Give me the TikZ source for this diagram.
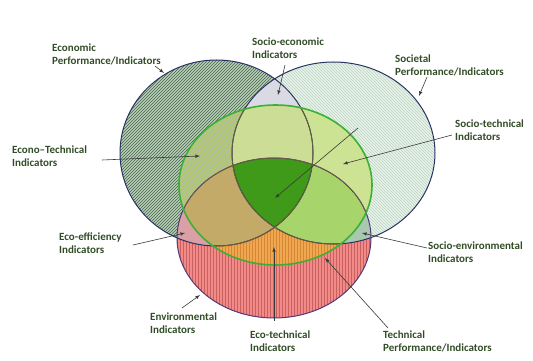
\documentclass[tikz,border=0pt]{standalone}
\usepackage{fontspec}
\setsansfont{Carlito}
\usetikzlibrary{patterns}
\definecolor{lblgreen}{RGB}{50,76,40}
\definecolor{arrowgray}{RGB}{58,58,58}
\definecolor{navyline}{RGB}{40,52,100}
\definecolor{envline}{RGB}{84,58,120}
\definecolor{innerline}{RGB}{110,100,50}
\definecolor{techline}{RGB}{60,176,52}
\definecolor{econbg}{RGB}{186,206,186}
\definecolor{econhatch}{RGB}{66,100,70}
\definecolor{socbg}{RGB}{232,243,234}
\definecolor{sochatch}{RGB}{186,212,196}
\definecolor{envbg}{RGB}{242,138,136}
\definecolor{envhatch}{RGB}{200,96,96}
\definecolor{econsoc}{RGB}{218,218,228}
\definecolor{econenv}{RGB}{218,160,166}
\definecolor{socenv}{RGB}{168,200,176}
\definecolor{techecon}{RGB}{182,202,112}
\definecolor{techsoc}{RGB}{205,227,148}
\definecolor{techenv}{RGB}{240,168,80}
\definecolor{techenvhatch}{RGB}{214,134,52}
\definecolor{techeconsoc}{RGB}{204,221,150}
\definecolor{techeconenv}{RGB}{196,170,104}
\definecolor{techsocenv}{RGB}{168,212,108}
\definecolor{coregreen}{RGB}{62,154,24}
\tikzset{every picture/.style={/utils/exec={\sffamily}}}
\tikzstyle{line}=[line width=0.6pt]
\tikzstyle{arrow}=[line,draw=arrowgray,->,>=latex]
\tikzstyle{lbl}=[anchor=north west,inner sep=0pt,align=left,text=lblgreen,
  font=\fontsize{11}{13}\selectfont\bfseries]
\newcommand{\EconShape}{(216.5,153) ellipse [x radius=96.5pt, y radius=93pt]}
\newcommand{\SocShape}{(333.5,153) ellipse [x radius=101.5pt, y radius=91pt]}
\newcommand{\EnvShape}{(274,238) ellipse [x radius=97pt, y radius=80pt]}
\newcommand{\TechShape}{(275.5,185) ellipse [x radius=96.5pt, y radius=80pt]}

\begin{document}
\begin{tikzpicture}[x=1pt,y=-1pt]
    \useasboundingbox (0,0) rectangle (533,361);
    % single sets
    \fill[econbg] \EconShape;
    \fill[pattern=north east lines, pattern color=econhatch] \EconShape;
    \fill[socbg] \SocShape;
    \fill[pattern=north west lines, pattern color=sochatch] \SocShape;
    \fill[envbg] \EnvShape;
    \fill[pattern=vertical lines, pattern color=envhatch] \EnvShape;
    % pairs outside the technical set
    \begin{scope}
      \clip \EconShape;
      \fill[econsoc] \SocShape;
      \fill[econenv] \EnvShape;
    \end{scope}
    \begin{scope}
      \clip \SocShape;
      \fill[socenv] \EnvShape;
    \end{scope}
    % technical set and its overlaps
    \begin{scope}
      \clip \TechShape;
      \fill[techecon] \EconShape;
      \fill[pattern=north east lines, pattern color=econhatch!45] \EconShape;
      \fill[techsoc] \SocShape;
      \fill[techenv] \EnvShape;
      \fill[pattern=vertical lines, pattern color=techenvhatch] \EnvShape;
      \begin{scope}
        \clip \EconShape;
        \fill[techeconsoc] \SocShape;
        \fill[techeconenv] \EnvShape;
      \end{scope}
      \begin{scope}
        \clip \SocShape;
        \fill[techsocenv] \EnvShape;
        \clip \EconShape;
        \fill[coregreen] \EnvShape;
      \end{scope}
    \end{scope}
    % outlines
    \draw[navyline, line width=1pt] \EconShape;
    \draw[navyline, line width=1pt] \SocShape;
    \draw[envline, line width=1pt] \EnvShape;
    \begin{scope}
      \clip \TechShape;
      \draw[innerline, line width=0.7pt] \EconShape;
      \draw[innerline, line width=0.7pt] \SocShape;
      \draw[innerline, line width=0.7pt] \EnvShape;
    \end{scope}
    \draw[techline, line width=1.6pt] \TechShape;

    % labels
    \node[lbl] (Econ)     at (52,44)  {Economic\\Performance/Indicators};
    \node[lbl] (SocEcon)  at (252,38) {Socio-economic\\Indicators};
    \node[lbl] (Soc)      at (395,55) {Societal\\Performance/Indicators};
    \node[lbl] (SocTech)  at (455,120) {Socio-technical\\Indicators};
    \node[lbl] (EconTech) at (12,146) {Econo--Technical\\Indicators};
    \node[lbl] (EcoEff)   at (59,233) {Eco-efficiency\\Indicators};
    \node[lbl] (SocEnv)   at (428,242) {Socio-environmental\\Indicators};
    \node[lbl] (Env)      at (150,313) {Environmental\\Indicators};
    \node[lbl] (EcoTech)  at (250,331) {Eco-technical\\Indicators};
    \node[lbl] (Tech)     at (383,331) {Technical\\Performance/Indicators};

    % arrow ends
    \coordinate (Econ-s)     at (155,66);
    \coordinate (Econ-t)     at (164,73);
    \coordinate (SocEcon-s)  at (285,65);
    \coordinate (SocEcon-t)  at (278,95);
    \coordinate (Soc-s)      at (427,77);
    \coordinate (Soc-t)      at (419,96);
    \coordinate (SocTech-s)  at (452,135);
    \coordinate (SocTech-t)  at (343,164);
    \coordinate (Core-s)     at (358,128);
    \coordinate (Core-t)     at (275,198);
    \coordinate (EconTech-s) at (102,160);
    \coordinate (EconTech-t) at (200,156);
    \coordinate (EcoEff-s)   at (133,245);
    \coordinate (EcoEff-t)   at (185,233);
    \coordinate (SocEnv-s)   at (427,248);
    \coordinate (SocEnv-t)   at (362,233);
    \coordinate (Env-s)      at (182,308);
    \coordinate (Env-t)      at (200,295);
    \coordinate (EcoTech-s)  at (274,321);
    \coordinate (EcoTech-t)  at (274,247);
    \coordinate (Tech-s)     at (388,328);
    \coordinate (Tech-t)     at (325,258);
    \foreach \n in {Econ,SocEcon,Soc,SocTech,Core,EconTech,EcoEff,SocEnv,Env,EcoTech,Tech} {
      \draw[arrow] (\n-s) -- (\n-t);
    }
\end{tikzpicture}
\end{document}
